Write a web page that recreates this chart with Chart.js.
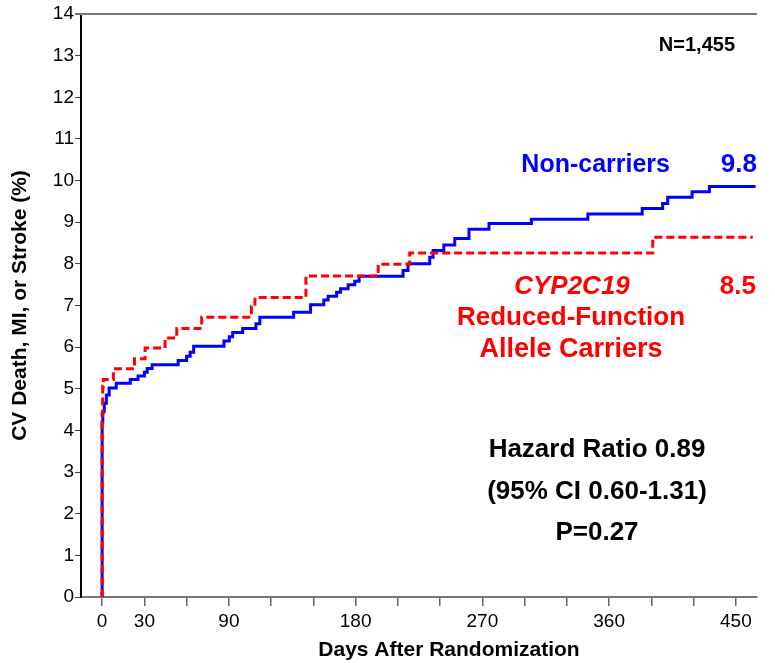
<!DOCTYPE html>
<html>
<head>
<meta charset="utf-8">
<script src="https://cdn.jsdelivr.net/npm/chart.js@4/dist/chart.umd.min.js"></script>
<style>
  html, body { margin: 0; padding: 0; background: #fff; }
  #wrap { width: 775px; height: 663px; }
</style>
</head>
<body>
<div id="wrap"><canvas id="km" width="775" height="663"></canvas></div>
<script>
// Non-carriers (blue, solid): day of each step and cumulative event rate (%)
const nonCarrierDays = [0, 0, 0.5, 1.5, 3, 5, 10, 20, 25.5, 30, 32, 35.5, 54, 60, 62.5, 65,
  86.5, 90.3, 92.7, 99.8, 109.2, 112, 136, 148, 157.4, 160.5, 166.5, 169.3, 174.7, 179.4,
  182.5, 213.7, 217.2, 232.6, 235, 242.6, 250.4, 260.5, 274.7, 304.8, 344.9, 383.5, 398,
  401.6, 418.9, 431.2, 464];
const nonCarrierRate = [0, 4.2, 4.45, 4.65, 4.85, 5.02, 5.13, 5.22, 5.31, 5.40, 5.49, 5.58, 5.68, 5.78, 5.88, 6.02,
  6.15, 6.25, 6.35, 6.45, 6.56, 6.72, 6.84, 7.02, 7.13, 7.22, 7.32, 7.40, 7.50, 7.58,
  7.70, 7.84, 8.00, 8.16, 8.32, 8.45, 8.61, 8.83, 8.97, 9.07, 9.20, 9.33, 9.45,
  9.60, 9.73, 9.86, 9.86];

// CYP2C19 reduced-function allele carriers (red, dashed)
const carrierDays = [0, 0, 0.4, 0.9, 8, 23, 30.5, 44.7, 53, 70.7, 106, 108.5, 144.7, 196, 218.4, 391, 462];
const carrierRate = [0, 4.4, 5.06, 5.22, 5.48, 5.72, 5.98, 6.22, 6.45, 6.72, 6.98, 7.19, 7.71, 7.99, 8.26, 8.64, 8.64];

const xTickValues = [0, 30, 60, 90, 120, 150, 180, 210, 240, 270, 300, 330, 360, 390, 420, 450];
const xTickLabels = [0, 30, 90, 180, 270, 360, 450];
const yTickValues = [0, 1, 2, 3, 4, 5, 6, 7, 8, 9, 10, 11, 12, 13, 14];

const toPoints = (xs, ys) => xs.map((d, i) => ({ x: d, y: ys[i] }));

const FONT = "'Liberation Sans', Arial, sans-serif";

const annotations = {
  id: 'annotations',
  afterDraw(chart) {
    const ctx = chart.ctx;
    const a = chart.chartArea;
    ctx.save();
    // top frame line
    ctx.strokeStyle = '#777';
    ctx.lineWidth = 2;
    ctx.beginPath();
    ctx.moveTo(a.left - 6, a.top);
    ctx.lineTo(a.right, a.top);
    ctx.stroke();

    const txt = (s, x, y, color, font, align) => {
      ctx.fillStyle = color;
      ctx.font = font;
      ctx.textAlign = align || 'center';
      ctx.textBaseline = 'middle';
      ctx.fillText(s, x, y);
    };
    // x axis title sits right of the plot centre in the original
    txt('Days After Randomization', 449, 650, '#000', 'bold 21px ' + FONT, 'center');
    txt('N=1,455', 735, 45, '#000', 'bold 20px ' + FONT, 'right');
    txt('Non-carriers', 670, 165, '#0000ff', 'bold 25px ' + FONT, 'right');
    txt('9.8', 757, 165, '#0000ff', 'bold 26px ' + FONT, 'right');
    txt('CYP2C19', 572, 287, '#ff0000', 'italic bold 26px ' + FONT, 'center');
    txt('8.5', 756, 287, '#ff0000', 'bold 26px ' + FONT, 'right');
    txt('Reduced-Function', 571, 318, '#ff0000', 'bold 26px ' + FONT, 'center');
    txt('Allele Carriers', 571, 350, '#ff0000', 'bold 27px ' + FONT, 'center');
    txt('Hazard Ratio 0.89', 597, 450, '#000', 'bold 26px ' + FONT, 'center');
    txt('(95% CI 0.60-1.31)', 597, 492, '#000', 'bold 26px ' + FONT, 'center');
    txt('P=0.27', 597, 533, '#000', 'bold 26px ' + FONT, 'center');
    ctx.restore();
  }
};

new Chart(document.getElementById('km'), {
  type: 'line',
  data: {
    datasets: [
      {
        label: 'CYP2C19 Reduced-Function Allele Carriers',
        data: toPoints(carrierDays, carrierRate),
        borderColor: '#ff0000',
        borderWidth: 3,
        borderDash: [8, 4],
        stepped: true,
        pointRadius: 0,
        fill: false
      },
      {
        label: 'Non-carriers',
        data: toPoints(nonCarrierDays, nonCarrierRate),
        borderColor: '#0000ff',
        borderWidth: 3,
        stepped: true,
        pointRadius: 0,
        fill: false
      }
    ]
  },
  options: {
    responsive: false,
    animation: false,
    layout: { padding: { top: 14, right: 18, left: 0, bottom: 0 } },
    plugins: {
      legend: { display: false },
      tooltip: { enabled: false }
    },
    scales: {
      x: {
        type: 'linear',
        min: -15,
        max: 465,
        afterBuildTicks: (scale) => { scale.ticks = xTickValues.map(v => ({ value: v })); },
        afterFit: (scale) => { scale.height = 66; },
        ticks: {
          autoSkip: false,
          maxRotation: 0,
          color: '#000',
          padding: 4,
          font: { family: FONT, size: 19 },
          callback: (v) => xTickLabels.includes(v) ? String(v) : ''
        },
        grid: { drawOnChartArea: false, tickLength: 9, color: '#666', lineWidth: 1.5 },
        border: { color: '#777', width: 2 },
        title: { display: false }
      },
      y: {
        min: 0,
        max: 14,
        afterBuildTicks: (scale) => { scale.ticks = yTickValues.map(v => ({ value: v })); },
        afterFit: (scale) => { scale.width = 81; },
        ticks: {
          color: '#000',
          padding: 1,
          font: { family: FONT, size: 19 }
        },
        grid: { drawOnChartArea: false, tickLength: 6, color: '#444', lineWidth: 1 },
        border: { color: '#000', width: 2 },
        title: {
          display: true,
          text: 'CV Death, MI, or Stroke (%)',
          color: '#000',
          font: { family: FONT, size: 21, weight: 'bold' },
          padding: { top: 8, bottom: 2 }
        }
      }
    }
  },
  plugins: [annotations]
});
</script>
</body>
</html>
